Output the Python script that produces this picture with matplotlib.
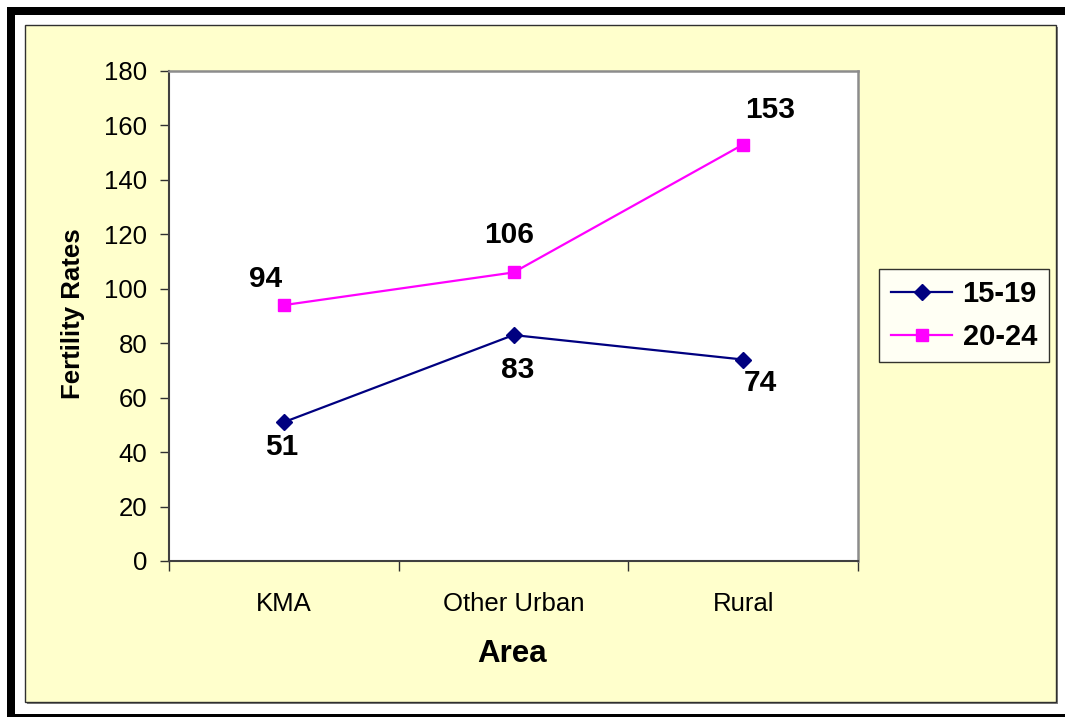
import matplotlib
matplotlib.use("Agg")
import matplotlib.pyplot as plt
from matplotlib.patches import Rectangle
from matplotlib.ticker import FixedLocator, NullFormatter

plt.rcParams['font.family'] = ['Liberation Sans', 'DejaVu Sans']

categories = ["KMA", "Other Urban", "Rural"]
series_names = ["15-19", "20-24"]
values_1519 = [51, 83, 74]
values_2024 = [94, 106, 153]
y_ticks = [0, 20, 40, 60, 80, 100, 120, 140, 160, 180]

W, H = 1065, 717
fig = plt.figure(figsize=(W / 100, H / 100), dpi=100)
fig.patch.set_facecolor('white')

def fx(px):
    return px / W

def fy(py):
    return 1 - py / H

# outer black frame (thick top/left, thin bottom)
fig.patches.append(Rectangle((fx(7), fy(15)), fx(1065 - 7), 8 / H, transform=fig.transFigure,
                             facecolor='black', edgecolor='none', zorder=-5))
fig.patches.append(Rectangle((fx(7), fy(717)), fx(8), (717 - 7) / H, transform=fig.transFigure,
                             facecolor='black', edgecolor='none', zorder=-5))
fig.patches.append(Rectangle((fx(7), fy(717)), fx(1065 - 7), 3 / H, transform=fig.transFigure,
                             facecolor='black', edgecolor='none', zorder=-5))

# chart area shadow and yellow background
fig.patches.append(Rectangle((fx(27), fy(704)), fx(1056 - 25), (702 - 25) / H, transform=fig.transFigure,
                             facecolor='#7f7f7f', edgecolor='none', zorder=-4))
fig.patches.append(Rectangle((fx(25), fy(702)), fx(1056 - 25), (702 - 25) / H, transform=fig.transFigure,
                             facecolor='#FFFFCC', edgecolor='#303030', linewidth=1.0, zorder=-3))

ax = fig.add_axes([fx(169), fy(561), fx(858 - 169), (561 - 71) / H])
ax.set_facecolor('white')
ax.set_zorder(2)

x = list(range(len(categories)))
ax.plot(x, values_1519, color='#000080', linewidth=1.6, marker='D', markersize=8,
        markerfacecolor='#000080', markeredgecolor='#000080', label=series_names[0], zorder=3)
ax.plot(x, values_2024, color='#FF00FF', linewidth=1.6, marker='s', markersize=9,
        markerfacecolor='#FF00FF', markeredgecolor='#FF00FF', label=series_names[1], zorder=3)

ax.set_xlim(-0.5, len(categories) - 0.5)
ax.set_ylim(0, 180)
ax.set_yticks(y_ticks)
ax.set_xticks(x)
ax.set_xticklabels(categories)
ax.xaxis.set_minor_locator(FixedLocator([i - 0.5 for i in range(len(categories) + 1)]))
ax.xaxis.set_minor_formatter(NullFormatter())
ax.tick_params(axis='x', which='major', length=0, pad=22.5, labelsize=18.5)
ax.tick_params(axis='x', which='minor', length=7, width=1, color='#303030', direction='out')
ax.tick_params(axis='y', which='major', length=6.5, width=1, color='#303030', direction='out',
               pad=9, labelsize=18.5)

for s in ['left', 'bottom']:
    ax.spines[s].set_color('#404040')
    ax.spines[s].set_linewidth(1.5)
for s in ['top', 'right']:
    ax.spines[s].set_color('#8c8c8c')
    ax.spines[s].set_linewidth(1.8)

# data labels
offsets_1519 = [(-2, -25), (4, -35), (17, -23)]
offsets_2024 = [(-18, 26), (-4, 37), (27, 34)]
for xi, v, (dx, dy) in zip(x, values_1519, offsets_1519):
    ax.annotate(str(v), (xi, v), xytext=(dx, dy), textcoords='offset pixels',
                ha='center', va='center', fontsize=21.5, fontweight='bold', annotation_clip=False)
for xi, v, (dx, dy) in zip(x, values_2024, offsets_2024):
    ax.annotate(str(v), (xi, v), xytext=(dx, dy), textcoords='offset pixels',
                ha='center', va='center', fontsize=21.5, fontweight='bold', annotation_clip=False)

fig.text(fx(512), fy(654), "Area", ha='center', va='center', fontsize=22.5, fontweight='bold')
fig.text(fx(73), fy(314), "Fertility Rates", ha='center', va='center', rotation=90,
         fontsize=18.5, fontweight='bold')

leg = ax.legend(loc='center', bbox_to_anchor=(fx(964), fy(315.5)), bbox_transform=fig.transFigure,
                frameon=True, fancybox=False, shadow=False, prop={'size': 21, 'weight': 'bold'},
                handlelength=2.1, handletextpad=0.35, labelspacing=0.5, borderpad=0.4,
                borderaxespad=0)
leg.get_frame().set_edgecolor('black')
leg.get_frame().set_linewidth(1.0)
leg.get_frame().set_facecolor('white')

fig.savefig("out.png", dpi=100, facecolor=fig.get_facecolor())
